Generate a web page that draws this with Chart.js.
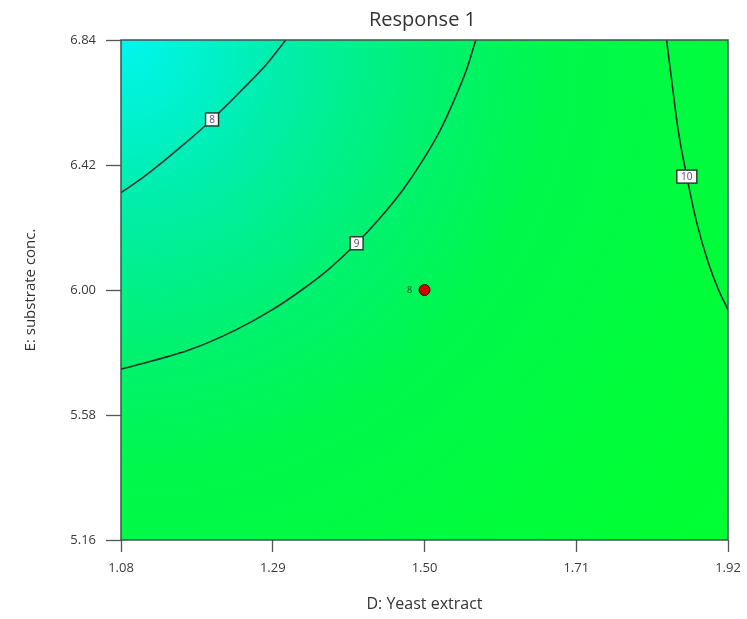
<!DOCTYPE html>
<html>
<head>
<meta charset="utf-8">
<title>Response 1</title>
<script src="https://cdn.jsdelivr.net/npm/chart.js@4/dist/chart.umd.min.js"></script>
<style>
  html, body { margin: 0; padding: 0; background: #fff; }
  #wrap { width: 747px; height: 619px; }
</style>
</head>
<body>
<div id="wrap"><canvas id="contourChart" width="747" height="619"></canvas></div>
<script>
  // axis ranges and tick values
  const xTicks = [1.08, 1.29, 1.5, 1.71, 1.92];
  const yTicks = [5.16, 5.58, 6.0, 6.42, 6.84];

  // contour lines, [D, E] pairs
  const levels = ["8", "9", "10"];
  const contour8 = [[1.08, 6.327], [1.111, 6.379], [1.157, 6.469], [1.206, 6.573], [1.249, 6.676], [1.282, 6.76], [1.308, 6.84]];
  const contour9 = [[1.08, 5.734], [1.174, 5.798], [1.239, 5.866], [1.289, 5.933], [1.33, 6.0], [1.366, 6.067], [1.406, 6.157], [1.436, 6.235], [1.47, 6.336], [1.498, 6.437], [1.522, 6.538], [1.541, 6.638], [1.558, 6.739], [1.571, 6.84]];
  const contour10 = [[1.835, 6.84], [1.842, 6.706], [1.851, 6.538], [1.863, 6.381], [1.877, 6.224], [1.893, 6.09], [1.907, 6.0], [1.92, 5.933]];
  const labelPos = [[1.206, 6.573], [1.406, 6.157], [1.863, 6.381]];

  // design point (center, 8 runs)
  const designPoint = [1.5, 6.0];
  const designCount = "8";

  const FONT = "'Open Sans', 'Noto Sans', sans-serif";

  function toXY(arr) {
    return arr.map((p) => ({ x: p[0], y: p[1] }));
  }

  function contourSet(arr) {
    return {
      type: "line",
      data: toXY(arr),
      borderColor: "#15302a",
      borderWidth: 1.6,
      pointRadius: 0,
      cubicInterpolationMode: "monotone",
      fill: false,
    };
  }

  const surfacePlugin = {
    id: "surface",
    beforeDatasetsDraw(chart) {
      const { ctx, chartArea: a } = chart;
      const r = Math.hypot(a.right - a.left, a.bottom - a.top);
      const g = ctx.createRadialGradient(a.left, a.top, 0, a.left, a.top, r);
      g.addColorStop(0, "rgb(0,246,240)");
      g.addColorStop(0.2, "rgb(0,238,172)");
      g.addColorStop(0.4, "rgb(0,242,110)");
      g.addColorStop(0.55, "rgb(0,248,76)");
      g.addColorStop(0.8, "rgb(0,253,58)");
      g.addColorStop(1, "rgb(0,255,50)");
      ctx.save();
      ctx.fillStyle = g;
      ctx.fillRect(a.left, a.top, a.right - a.left, a.bottom - a.top);
      ctx.restore();
    },
    afterDatasetsDraw(chart) {
      const { ctx, chartArea: a, scales } = chart;
      ctx.save();
      // contour level boxes
      ctx.font = "10px " + FONT;
      ctx.textAlign = "center";
      ctx.textBaseline = "middle";
      labelPos.forEach((p, i) => {
        const px = scales.x.getPixelForValue(p[0]);
        const py = scales.y.getPixelForValue(p[1]);
        const w = levels[i].length > 1 ? 20 : 13;
        const h = 13;
        ctx.fillStyle = "#fafafa";
        ctx.fillRect(px - w / 2, py - h / 2, w, h);
        ctx.strokeStyle = "#23342e";
        ctx.lineWidth = 1.4;
        ctx.strokeRect(px - w / 2, py - h / 2, w, h);
        ctx.fillStyle = "#6a4a6a";
        ctx.fillText(levels[i], px, py + 0.5);
      });
      // run count beside the design point
      const dx = scales.x.getPixelForValue(designPoint[0]);
      const dy = scales.y.getPixelForValue(designPoint[1]);
      ctx.font = "9px " + FONT;
      ctx.fillStyle = "#1d4a2a";
      ctx.fillText(designCount, dx - 15, dy);
      // frame
      ctx.strokeStyle = "#3c5550";
      ctx.lineWidth = 1.5;
      ctx.strokeRect(a.left, a.top, a.right - a.left, a.bottom - a.top);
      // title
      ctx.font = "20px " + FONT;
      ctx.fillStyle = "#333";
      ctx.fillText("Response 1", (a.left + a.right) / 2 - 2, 20);
      ctx.restore();
    },
  };

  new Chart(document.getElementById("contourChart"), {
    type: "scatter",
    data: {
      datasets: [
        contourSet(contour8),
        contourSet(contour9),
        contourSet(contour10),
        {
          data: [{ x: designPoint[0], y: designPoint[1] }],
          backgroundColor: "#d00000",
          borderColor: "#3a0000",
          borderWidth: 1,
          pointRadius: 5.5,
        },
      ],
    },
    options: {
      responsive: false,
      animation: false,
      layout: { padding: { top: 40, right: 19, left: 0, bottom: 0 } },
      plugins: { legend: { display: false }, tooltip: { enabled: false }, title: { display: false } },
      scales: {
        x: {
          type: "linear",
          min: xTicks[0],
          max: xTicks[xTicks.length - 1],
          afterBuildTicks: (s) => { s.ticks = xTicks.map((v) => ({ value: v })); },
          afterFit: (s) => { s.height = 79; s.paddingLeft = 0; s.paddingRight = 0; },
          ticks: { callback: (v) => v.toFixed(2), padding: 8, color: "#3a3a3a", font: { family: FONT, size: 13 } },
          grid: { drawOnChartArea: false, drawTicks: true, tickLength: 12, tickColor: "#555", tickWidth: 1.3 },
          border: { display: false },
          title: { display: true, text: "D: Yeast extract", color: "#333", font: { family: FONT, size: 16 }, padding: { top: 0, bottom: 5 } },
        },
        y: {
          type: "linear",
          min: yTicks[0],
          max: yTicks[yTicks.length - 1],
          afterBuildTicks: (s) => { s.ticks = yTicks.map((v) => ({ value: v })); },
          afterFit: (s) => { s.width = 121; },
          ticks: { callback: (v) => v.toFixed(2), padding: 10, color: "#3a3a3a", font: { family: FONT, size: 13 } },
          grid: { drawOnChartArea: false, drawTicks: true, tickLength: 15, tickColor: "#555", tickWidth: 1.3 },
          border: { display: false },
          title: { display: true, text: "E: substrate conc.", color: "#333", font: { family: FONT, size: 15 }, padding: { top: 22, bottom: 0 } },
        },
      },
    },
    plugins: [surfacePlugin],
  });
</script>
</body>
</html>
